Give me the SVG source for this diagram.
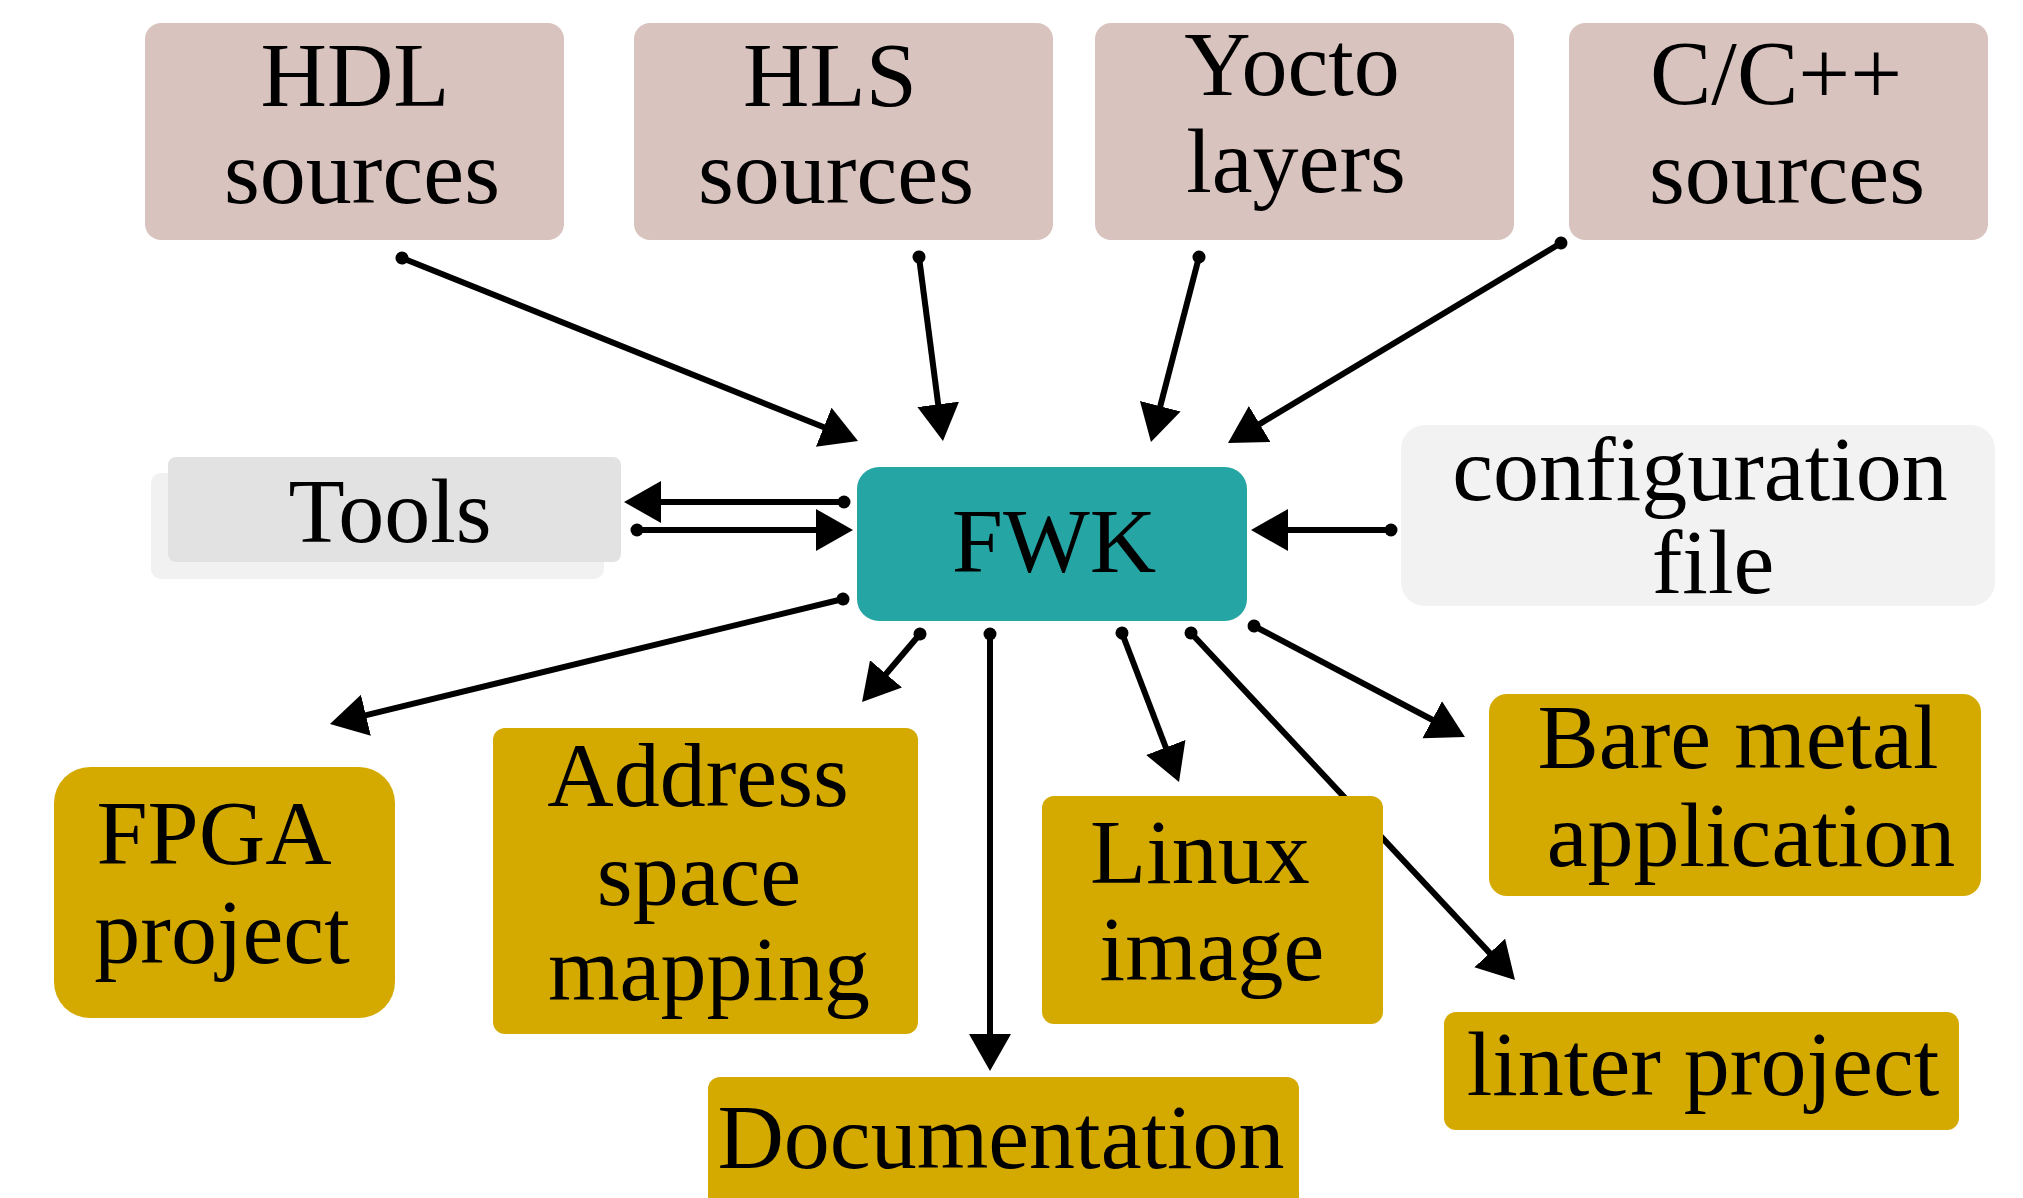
<svg xmlns="http://www.w3.org/2000/svg" width="2023" height="1198" viewBox="0 0 2023 1198">
<style>
  text { font-family: "Liberation Serif", "Times New Roman", serif; font-size: 92px; fill: #000; text-anchor: middle; }
  .src { fill: #d9c3bf; }
  .out { fill: #d4aa00; }
  .conn line { stroke: #000; stroke-width: 6; marker-start: url(#dot); marker-end: url(#arrow); }
</style>
<defs>
  <marker id="arrow" markerUnits="userSpaceOnUse" markerWidth="40" markerHeight="44" refX="7" refY="21" orient="auto">
    <path d="M0,0 L37,21 L0,42 z" fill="#000"/>
  </marker>
  <marker id="dot" markerUnits="userSpaceOnUse" markerWidth="16" markerHeight="16" refX="8" refY="8" orient="auto">
    <circle cx="8" cy="8" r="6.5" fill="#000"/>
  </marker>
</defs>
<rect width="2023" height="1198" fill="#fff"/>
<g id="connectors" class="conn">
  <line x1="402" y1="258" x2="830.2" y2="429.8"/>
  <line x1="919" y1="257" x2="939.1" y2="411.3"/>
  <line x1="1199" y1="257" x2="1158.5" y2="413"/>
  <line x1="1561" y1="243" x2="1253.7" y2="427.6"/>
  <line x1="844" y1="502" x2="654" y2="502"/>
  <line x1="637" y1="530" x2="823" y2="530"/>
  <line x1="1391" y1="530" x2="1281" y2="530"/>
  <line x1="843" y1="599" x2="359.1" y2="716.9"/>
  <line x1="920" y1="634" x2="881.5" y2="679.2"/>
  <line x1="990" y1="634" x2="990" y2="1041"/>
  <line x1="1122" y1="633" x2="1168.3" y2="754"/>
  <line x1="1191" y1="633" x2="1494.5" y2="958.1"/>
  <line x1="1254" y1="626" x2="1438.4" y2="723"/>
</g>
<g id="hdl"><rect class="src" x="145" y="23" width="419" height="217" rx="16"/><text x="355" y="106">HDL</text><text x="362" y="203">sources</text></g>
<g id="hls"><rect class="src" x="634" y="23" width="419" height="217" rx="16"/><text x="830" y="106">HLS</text><text x="836" y="203">sources</text></g>
<g id="yocto"><rect class="src" x="1095" y="23" width="419" height="217" rx="16"/><text x="1292" y="95">Yocto</text><text x="1296" y="192">layers</text></g>
<g id="ccpp"><rect class="src" x="1569" y="23" width="419" height="217" rx="16"/><text x="1776" y="104">C/C++</text><text x="1787" y="203">sources</text></g>
<g id="tools"><rect x="151" y="473" width="453" height="106" rx="10" fill="#f1f1f1"/><rect x="168" y="457" width="453" height="105" rx="8" fill="#e2e2e2"/><text x="390" y="542">Tools</text></g>
<g id="fwk"><rect x="857" y="467" width="390" height="154" rx="22" fill="#25a5a4"/><text x="1054" y="572">FWK</text></g>
<g id="config"><rect x="1401" y="425" width="594" height="181" rx="24" fill="#f2f2f2"/><text x="1700" y="500">configuration</text><text x="1713" y="593">file</text></g>
<g id="fpga"><rect class="out" x="54" y="767" width="341" height="251" rx="36"/><text x="214" y="864">FPGA</text><text x="222" y="963">project</text></g>
<g id="address"><rect class="out" x="493" y="728" width="425" height="306" rx="12"/><text x="698" y="806">Address</text><text x="699" y="905">space</text><text x="709" y="1000">mapping</text></g>
<g id="documentation"><rect class="out" x="708" y="1077" width="591" height="140" rx="12"/><text x="1001" y="1168">Documentation</text></g>
<g id="linux"><rect class="out" x="1042" y="796" width="341" height="228" rx="12"/><text x="1200" y="883">Linux</text><text x="1212" y="980">image</text></g>
<g id="baremetal"><rect class="out" x="1489" y="694" width="492" height="202" rx="18"/><text x="1738" y="768">Bare metal</text><text x="1751" y="866">application</text></g>
<g id="linter"><rect class="out" x="1444" y="1012" width="515" height="118" rx="12"/><text x="1703" y="1095">linter project</text></g>
</svg>
